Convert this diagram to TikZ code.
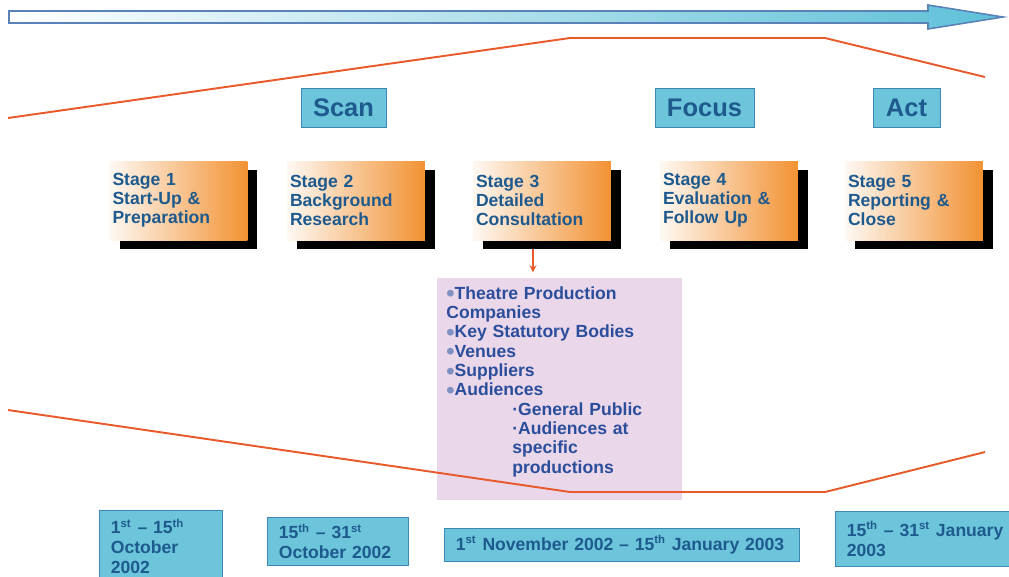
\documentclass[tikz,border=0pt]{standalone}
\usepackage{fontspec}
\setmainfont{Liberation Sans}
\usetikzlibrary{shadows}
\definecolor{textblue}{HTML}{1E5A8E}
\definecolor{boxcyan}{HTML}{6CC5DA}
\definecolor{boxedge}{HTML}{3E86B4}
\definecolor{stageorange}{HTML}{F29233}
\definecolor{listpink}{HTML}{EBD7EA}
\definecolor{listblue}{HTML}{2A4E9B}
\definecolor{bulletgray}{HTML}{7F90C2}
\definecolor{redline}{HTML}{E85A2C}
\definecolor{arrowcyan}{HTML}{5DC0D8}
\definecolor{arrowedge}{HTML}{5A82B8}
\tikzset{
	phase/.style={draw=boxedge, fill=boxcyan, text=textblue, font=\fontsize{14.5}{16}\selectfont\bfseries, minimum height=0.78cm, inner sep=0pt},
	stage/.style={left color=stageorange!6, middle color=stageorange!55, right color=stageorange, text=textblue, font=\fontsize{10}{10.8}\selectfont\bfseries, text width=2.64cm, align=left, inner xsep=0.06cm, minimum height=1.58cm, drop shadow={shadow xshift=0.2cm, shadow yshift=-0.18cm, fill=black, opacity=1}},
	datebox/.style={draw=boxedge, fill=boxcyan, text=textblue, font=\fontsize{10}{11.4}\selectfont\bfseries, align=left, inner xsep=0.23cm, anchor=north west},
	trend/.style={draw=redline, line width=1.1pt}
}
\newcommand{\bul}{{\color{bulletgray}\raisebox{-1.6pt}[0pt][0pt]{\scalebox{1.35}{\textbullet}}}}
\newcommand{\subbul}{\hspace*{1.32cm}\textperiodcentered}
\newcommand{\sups}[1]{\textsuperscript{\fontsize{6.5}{7}\selectfont#1}}
\begin{document}
\begin{tikzpicture}[x=0.02cm, y=-0.02cm]
	\useasboundingbox (0,0) rectangle (1009,576);
	\draw[arrowedge, line width=0.9pt, left color=white, right color=arrowcyan] (9,11) -- (928,11) -- (928,5) -- (1003,17) -- (928,29) -- (928,23) -- (9,23) -- cycle;
	\node[phase, minimum width=1.7cm] (scan) at (343.5,107.5) {Scan};
	\node[phase, minimum width=1.98cm] (focus) at (704.5,107.5) {Focus};
	\node[phase, minimum width=1.34cm] (act) at (906.5,107.5) {Act};
	\node[stage] (st1) at (178.5,200.5) {Stage 1\\Start-Up \&\\Preparation};
	\node[stage] (st2) at (356,200.5) {Stage 2\\Background\\Research};
	\node[stage] (st3) at (542,200.5) {Stage 3\\Detailed\\Consultation};
	\node[stage] (st4) at (729,200.5) {Stage 4\\Evaluation \&\\Follow Up};
	\node[stage] (st5) at (914,200.5) {Stage 5\\Reporting \&\\Close};
	\node[fill=listpink, minimum width=4.9cm, minimum height=4.44cm, inner sep=0pt] (list) at (559.5,389) {};
	\node[anchor=north west, inner sep=0pt, text width=4.7cm, align=left, text=listblue, font=\fontsize{10}{11}\selectfont\bfseries] (items) at (446,286) {\bul Theatre Production\\Companies\\\bul Key Statutory Bodies\\\bul Venues\\\bul Suppliers\\\bul Audiences\\\subbul General Public\\\subbul Audiences at\\\hspace*{1.32cm}specific\\\hspace*{1.32cm}productions};
	\coordinate (arrtop) at ([shift={(-0.18cm,-0.18cm)}]st3.south);
	\draw[redline, line width=0.8pt, -stealth] (arrtop) -- ++(0,23);
	\draw[trend] (8,118) -- (570,38) -- (825,38) -- (985,77);
	\draw[trend] (8,410) -- (570,492) -- (825,492) -- (985,452);
	\node[datebox, text width=2.0cm, minimum height=1.44cm] (d1) at (99,510) {1\sups{st} -- 15\sups{th}\\October\\2002};
	\node[datebox, text width=2.36cm, minimum height=0.96cm] (d2) at (267,517) {15\sups{th} -- 31\sups{st}\\October 2002};
	\node[datebox, text width=6.64cm, minimum height=0.66cm] (d3) at (444,528) {1\sups{st} November 2002 -- 15\sups{th} January 2003};
	\node[datebox, text width=3.2cm, minimum height=1.1cm] (d4) at (835,511) {15\sups{th} -- 31\sups{st} January\\2003};
\end{tikzpicture}
\end{document}
